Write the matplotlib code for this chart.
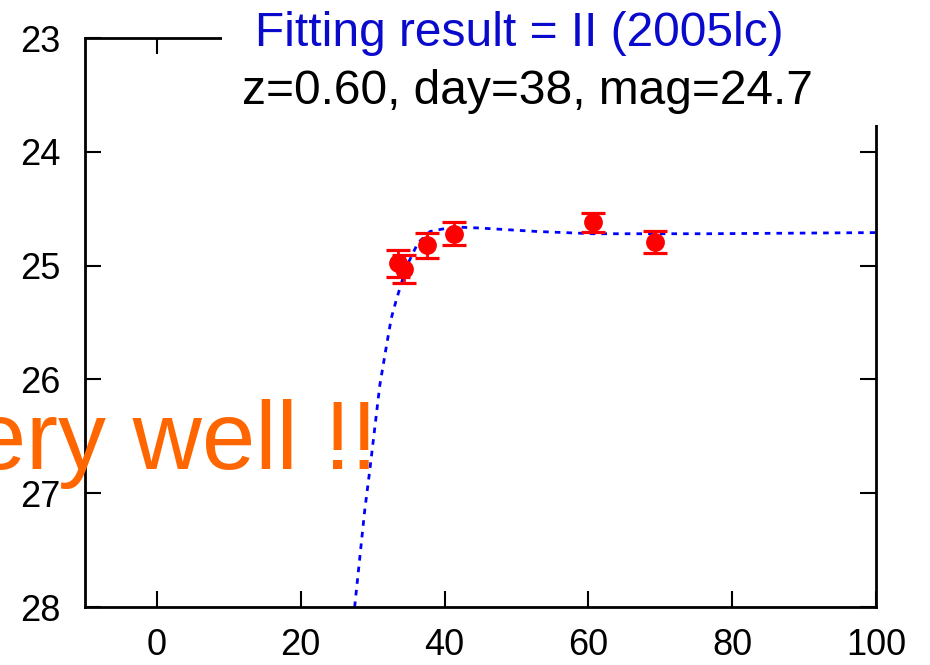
import matplotlib
matplotlib.use('Agg')
import matplotlib.pyplot as plt
from matplotlib.patches import Rectangle

plt.rcParams['font.family'] = ['Liberation Sans', 'DejaVu Sans']

# observed points (day, mag, error)
obs_day = [33.5, 34.3, 37.5, 41.3, 60.7, 69.3]
obs_mag = [24.98, 25.03, 24.82, 24.72, 24.62, 24.79]
obs_err = [0.12, 0.12, 0.11, 0.10, 0.085, 0.095]

# fitted template curve
fit_day = [27.5, 28.9, 29.6, 31.0, 31.8, 32.6, 33.3, 34.7, 36.3, 38.0, 41.2,
           44.9, 52.8, 60.6, 76.5, 100.0]
fit_mag = [28.0, 27.15, 26.8, 26.05, 25.75, 25.46, 25.30, 25.01, 24.80, 24.70, 24.66,
           24.67, 24.70, 24.72, 24.72, 24.71]

xticks = [0, 20, 40, 60, 80, 100]
yticks = [23, 24, 25, 26, 27, 28]

fig = plt.figure(figsize=(9.3, 6.65), dpi=100)
ax = fig.add_axes([85/930, 1 - 607/665, (876 - 85)/930, (607 - 38)/665])

ax.plot(fit_day, fit_mag, color='#0000ff', lw=2, dashes=(2, 2.2), zorder=2)
ax.errorbar(obs_day, obs_mag, yerr=obs_err, fmt='o', color='#ff0000', ms=12.5,
            capsize=8.5, elinewidth=2, capthick=2.3, zorder=3)

ax.set_xlim(-10, 100)
ax.set_ylim(28, 23)
ax.set_xticks(xticks)
ax.set_yticks(yticks)
ax.tick_params(direction='in', length=11.5, width=1.5, labelsize=26, top=True, right=True)
ax.tick_params(axis='x', pad=15)
ax.tick_params(axis='y', pad=18)
for s in ax.spines.values():
    s.set_linewidth(2)

# white patch hiding the frame behind the titles
fig.patches.append(Rectangle((222/930, 1 - 125/665), (895 - 222)/930, 125/665,
                             transform=fig.transFigure, facecolor='white',
                             edgecolor='none', zorder=3))

fig.text(519/930, 1 - 33/665, 'Fitting result = II (2005lc)', color='#0a0acc',
         fontsize=34.5, ha='center', va='center', zorder=4)
fig.text(527/930, 1 - 92/665, 'z=0.60, day=38, mag=24.7', color='black',
         fontsize=34.5, ha='center', va='center', zorder=4)
fig.text(378/930, 1 - 469/665, 'Very well !!', color='#ff6600',
         fontsize=69, ha='right', va='baseline', zorder=4)

plt.savefig('out.png', dpi=100)
